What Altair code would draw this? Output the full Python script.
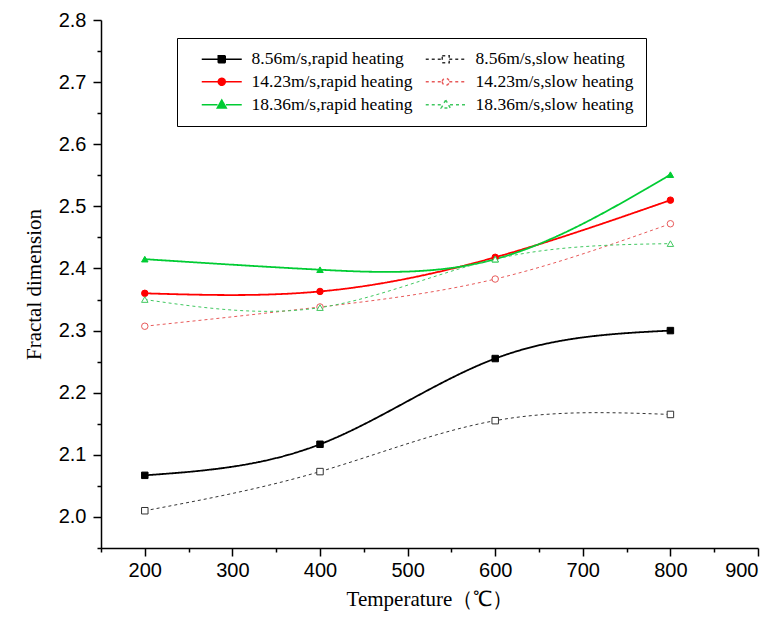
import altair as alt
import pandas as pd
import numpy as np

temps = [200, 400, 600, 800]
series_names = [
    "8.56m/s,rapid heating", "14.23m/s,rapid heating", "18.36m/s,rapid heating",
    "8.56m/s,slow heating", "14.23m/s,slow heating", "18.36m/s,slow heating",
]
rapid_856 = [2.067, 2.117, 2.255, 2.300]
rapid_1423 = [2.360, 2.363, 2.418, 2.510]
rapid_1836 = [2.415, 2.398, 2.415, 2.551]
slow_856 = [2.010, 2.073, 2.155, 2.165]
slow_1423 = [2.307, 2.338, 2.383, 2.472]
slow_1836 = [2.350, 2.337, 2.415, 2.440]
values = [rapid_856, rapid_1423, rapid_1836, slow_856, slow_1423, slow_1836]

line_colors = ["#000000", "#ff0000", "#00cc33", "#333333", "#e85a5a", "#40c860"]
dashes = [[1, 0], [1, 0], [1, 0], [3, 3], [3, 3], [3, 3]]
shapes = ["square", "circle", "triangle-up", "square", "circle", "triangle-up"]
fills = ["#000000", "#ff0000", "#00cc33", "white", "white", "white"]
widths = [1.8, 1.8, 1.8, 1.0, 1.0, 1.0]

rows = []
for i, name in enumerate(series_names):
    for t, v in zip(temps, values[i]):
        rows.append({"temp": t, "fd": v, "series": name, "shape": shapes[i],
                     "fillc": fills[i], "strokec": line_colors[i], "sw": widths[i]})
df = pd.DataFrame(rows)

major_x = [200, 300, 400, 500, 600, 700, 800, 900]
minor_x = [150, 250, 350, 450, 550, 650, 750, 850]
major_y = [2.0, 2.1, 2.2, 2.3, 2.4, 2.5, 2.6, 2.7, 2.8]
minor_y = [1.95, 2.05, 2.15, 2.25, 2.35, 2.45, 2.55, 2.65, 2.75]

xs = alt.Scale(domain=[150, 900], nice=False, zero=False)
ys = alt.Scale(domain=[1.95, 2.8], nice=False, zero=False)

# legend symbols: a short line with the marker in its middle (units of 5 px)
sq = "M0.8,0H4.1M5.5,0H8.8M4.1,-0.7H5.5V0.7H4.1Z"
ci = "M0.8,0H4.1M5.5,0H8.8M4.1,0A0.7,0.7 0 1 0 5.5,0A0.7,0.7 0 1 0 4.1,0Z"
tr = "M0.8,0H3.95M5.65,0H8.8M4.8,-0.95L5.7,0.65L3.9,0.65Z"
legend_paths = [sq, ci, tr, sq, ci, tr]

legend = alt.Legend(
    title=None, orient="none", legendX=76, legendY=18, columns=2,
    padding=12, strokeColor="black", fillColor="white",
    labelFont="Liberation Serif", labelFontSize=17.5, labelColor="black",
    labelLimit=400,
    symbolSize=100, labelOffset=45, rowPadding=4, columnPadding=0,
    symbolLimit=0,
)

axis_common = dict(domainColor="black", domainWidth=1.5, tickColor="black",
                   tickWidth=1.5, tickSize=8, labelFont="Liberation Sans",
                   labelFontSize=20, labelColor="black", grid=False,
                   titleFont="Liberation Serif", titleFontSize=21,
                   titleFontWeight="normal", titleColor="black")

lines = alt.Chart(df).mark_line(interpolate="natural").encode(
    x=alt.X("temp:Q", scale=xs, axis=alt.Axis(values=major_x, title="Temperature（℃）",
                                             titlePadding=8, labelPadding=4, orient="bottom",
                                             **axis_common)),
    y=alt.Y("fd:Q", scale=ys, axis=alt.Axis(values=major_y, format=".1f", title="Fractal dimension",
                                           titlePadding=14, labelPadding=7, orient="left",
                                           **axis_common)),
    color=alt.Color("series:N", scale=alt.Scale(domain=series_names, range=line_colors), legend=None),
    strokeDash=alt.StrokeDash("series:N", scale=alt.Scale(domain=series_names, range=dashes), legend=None),
    strokeWidth=alt.StrokeWidth("sw:Q", scale=None),
    detail="series:N",
)

points = alt.Chart(df).mark_point(filled=True, size=42, strokeWidth=1, opacity=1).encode(
    x=alt.X("temp:Q", scale=xs, axis=None),
    y=alt.Y("fd:Q", scale=ys, axis=None),
    shape=alt.Shape("shape:N", scale=None),
    fill=alt.Fill("fillc:N", scale=None),
    stroke=alt.Stroke("strokec:N", scale=None),
)

legend_layer = alt.Chart(df).transform_filter("datum.temp < 0").mark_point(
    filled=True, size=100, strokeWidth=1.2, opacity=1).encode(
    x=alt.X("temp:Q", scale=xs, axis=None),
    y=alt.Y("fd:Q", scale=ys, axis=None),
    shape=alt.Shape("series:N", scale=alt.Scale(domain=series_names, range=legend_paths), legend=legend),
    fill=alt.Fill("series:N", scale=alt.Scale(domain=series_names, range=fills), legend=legend),
    stroke=alt.Stroke("series:N", scale=alt.Scale(domain=series_names, range=line_colors), legend=legend),
    strokeDash=alt.StrokeDash("series:N", scale=alt.Scale(domain=series_names, range=dashes), legend=legend),
)

minor = alt.Chart(df).mark_point(opacity=0).encode(
    x=alt.X("temp:Q", scale=xs, axis=alt.Axis(values=minor_x, labels=False, domain=False, title=None,
                                             tickSize=4, tickWidth=1.5, tickColor="black",
                                             grid=False, orient="bottom")),
    y=alt.Y("fd:Q", scale=ys, axis=alt.Axis(values=minor_y, labels=False, domain=False, title=None,
                                           tickSize=4, tickWidth=1.5, tickColor="black",
                                           grid=False, orient="left")),
)

chart = alt.layer(lines, points, legend_layer, minor).resolve_axis(
    x="independent", y="independent"
).resolve_scale(
    shape="independent", fill="independent", stroke="independent", strokeDash="independent"
).properties(
    width=657, height=528,
    autosize=alt.AutoSizeParams(type="none"),
    padding={"left": 101, "top": 20, "right": 23, "bottom": 77},
    background="white",
).configure_view(stroke=None)

chart.save("out.html", embed_options={"renderer": "svg", "actions": False})
